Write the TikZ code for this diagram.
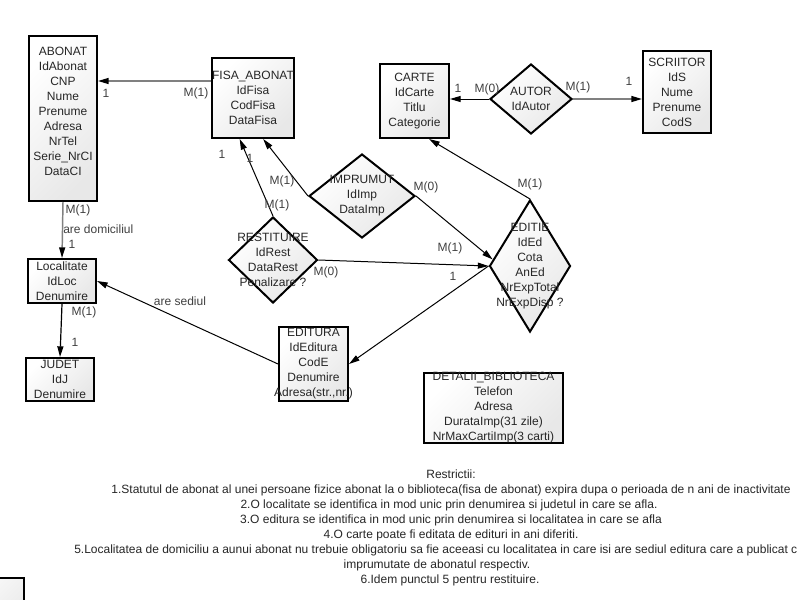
\documentclass[tikz,border=0pt]{standalone}
\usepackage{fontspec}
\setmainfont{Liberation Sans}
\usetikzlibrary{arrows.meta,shapes.geometric,positioning}
\tikzset{
    entity/.style={rectangle,draw=black,line width=1.5pt,top color=white,bottom color=black!9,shading angle=45,inner sep=0pt,align=center,font=\fontsize{9}{11.25}\selectfont,text=black!85},
    relation/.style={diamond,draw=black,line width=1.5pt,top color=white,bottom color=black!9,shading angle=45,inner sep=0pt},
    rtext/.style={align=center,font=\fontsize{9}{11.25}\selectfont,text=black!85,inner sep=0pt},
    conn/.style={-{Triangle[length=8pt,width=4.5pt]},draw=black,line width=0.75pt},
    gconn/.style={-{Triangle[length=8pt,width=4.5pt,color=black]},draw=gray,line width=1.1pt},
    card/.style={font=\fontsize{9}{11.25}\selectfont,text=black!75,inner sep=0pt},
    note/.style={font=\fontsize{9}{11.25}\selectfont,text=black!85,inner sep=0pt},
}
\begin{document}
\begin{tikzpicture}[x=0.75pt,y=-0.75pt]
\useasboundingbox (0,0) rectangle (800,600);
\clip (0,0) rectangle (800,600);
\fill[white] (0,0) rectangle (800,600);

\node[entity,minimum width=51pt,minimum height=123.75pt] (abonat) at (63,118.5) {ABONAT\\IdAbonat\\CNP\\Nume\\Prenume\\Adresa\\NrTel\\Serie\_NrCI\\DataCI\\\mbox{}};
\node[entity,minimum width=60pt,minimum height=60pt] (fisa) at (253,98) {FISA\_ABONAT\\IdFisa\\CodFisa\\DataFisa};
\node[entity,minimum width=51.75pt,minimum height=55.5pt] (carte) at (414.5,101) {CARTE\\IdCarte\\Titlu\\Categorie};
\node[entity,minimum width=51pt,minimum height=61.5pt] (scriitor) at (677,92) {SCRIITOR\\IdS\\Nume\\Prenume\\CodS};
\node[entity,minimum width=51pt,minimum height=33pt] (loc) at (62,281) {Localitate\\IdLoc\\Denumire};
\node[entity,minimum width=51pt,minimum height=32.25pt] (judet) at (60,379.5) {JUDET\\IdJ\\Denumire};
\node[entity,minimum width=51.75pt,minimum height=55.5pt] (editura) at (313.5,364) {EDITURA\\IdEditura\\CodE\\Denumire\\\makebox[0pt]{Adresa(str.,nr.)}};
\node[entity,minimum width=104.25pt,minimum height=51pt] (detalii) at (493.5,408) {DETALII\_BIBLIOTECA\\Telefon\\Adresa\\DurataImp(31 zile)\\NrMaxCartiImp(3 carti)};
\node[entity,minimum width=60pt,minimum height=45pt] (extra) at (-16,608) {};

\node[relation,minimum width=61.5pt,minimum height=52.5pt,label={[rtext]center:AUTOR\\IdAutor}] (autor) at (531,99) {};
\node[relation,minimum width=79.5pt,minimum height=63pt,label={[rtext]center:IMPRUMUT\\IdImp\\DataImp}] (imprumut) at (362,196) {};
\node[relation,minimum width=66.75pt,minimum height=64.5pt,label={[rtext]center:RESTITUIRE\\IdRest\\DataRest\\Penalizare ?}] (restit) at (273,260) {};
\node[relation,minimum width=60.75pt,minimum height=99pt,label={[rtext]center:EDITIE\\IdEd\\Cota\\AnEd\\NrExpTotal\\NrExpDisp ?}] (editie) at (530,266) {};

\coordinate (y81) at (0,81);
\draw[gconn] (fisa.west |- y81) -- (abonat.east |- y81);
\draw[gconn] (abonat.south) -- (loc.north);
\draw[conn,line width=0.9pt] (loc.south) -- (judet.north);
\draw[conn] (editura.west) -- (loc.east);
\draw[conn] (editie.north) -- (carte.-69);
\draw[conn] (autor.west) -- (autor.west -| carte.east);
\draw[gconn] (autor.east) -- (autor.east -| scriitor.west);
\draw[conn] (imprumut.west) -- (fisa.-76);
\draw[conn] (restit.north) -- (fisa.-108);
\draw[conn] (imprumut.east) -- (editie.170);
\draw[conn] (restit.east) -- (editie.west);
\draw[conn] (editie.west) -- (editura.east);

\node[card] (l1) at (106,93) {1};
\node[card] (l2) at (196,93) {M(1)};
\node[card] (l3) at (78,210) {M(1)};
\node[card,anchor=west] (l4) at (63,229) {are domiciliul};
\node[card] (l5) at (72,244) {1};
\node[card] (l6) at (84,312) {M(1)};
\node[card] (l7) at (75,342) {1};
\node[card] (l8) at (180,301) {are sediul};
\node[card] (l9) at (282,181) {M(1)};
\node[card] (l10) at (277,205) {M(1)};
\node[card] (l11) at (222,154) {1};
\node[card] (l12) at (250,158) {1};
\node[card] (l13) at (426,187) {M(0)};
\node[card] (l14) at (450,248) {M(1)};
\node[card] (l15) at (453,276) {1};
\node[card] (l16) at (326,272) {M(0)};
\node[card] (l17) at (530,184) {M(1)};
\node[card] (l18) at (458,88) {1};
\node[card] (l19) at (487,89) {M(0)};
\node[card] (l20) at (578,87) {M(1)};
\node[card] (l21) at (629,81) {1};

\node[note] (r0) at (451,474) {Restrictii:};
\node[note] (r1) at (451,490) {1.Statutul de abonat al unei persoane fizice abonat la o biblioteca(fisa de abonat) expira dupa o perioada de n ani de inactivitate};
\node[note] (r2) at (449,505) {2.O localitate se identifica in mod unic prin denumirea si judetul in care se afla.};
\node[note] (r3) at (451,520) {3.O editura se identifica in mod unic prin denumirea si localitatea in care se afla};
\node[note] (r4) at (451,535) {4.O carte poate fi editata de edituri in ani diferiti.};
\node[note,anchor=west] (r5) at (74,550) {5.Localitatea de domiciliu a aunui abonat nu trebuie obligatoriu sa fie aceeasi cu localitatea in care isi are sediul editura care a publicat c};
\node[note] (r6) at (437,565) {imprumutate de abonatul respectiv.};
\node[note] (r7) at (450,580) {6.Idem punctul 5 pentru restituire.};
\end{tikzpicture}
\end{document}
